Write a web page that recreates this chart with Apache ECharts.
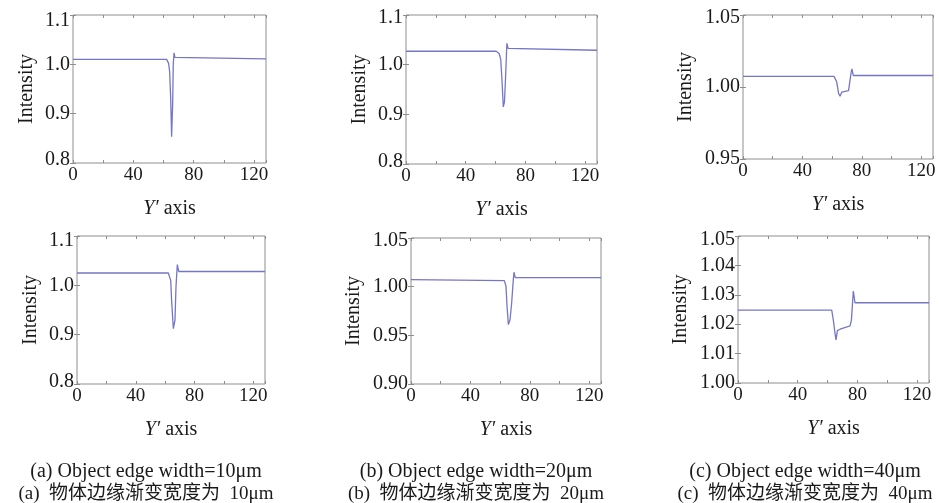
<!DOCTYPE html>
<html>
<head>
<meta charset="utf-8">
<script src="https://cdn.jsdelivr.net/npm/echarts@6/dist/echarts.min.js"></script>
<style>
html,body{margin:0;padding:0;background:#fff;}
#chart{width:939px;height:503px;}
</style>
</head>
<body>
<div id="chart"></div>
<script>
// ---- data ----
const xTickLabels = [0, 40, 80, 120];
const xMax = 128;

// (a) top: Object edge width = 10um
const topA_x = [0, 62.1, 63.4, 64.1, 64.8, 65.4, 66.1, 66.5, 67.0, 67.6, 68.3, 128];
const topA_y = [1.010, 1.010, 1.002, 0.985, 0.93, 0.853, 0.92, 1.00, 1.023, 1.014, 1.011, 1.011];
// (b) top
const topB_x = [0, 60.5, 62.5, 63.5, 64.3, 65.2, 66.0, 66.8, 67.6, 68.4, 69.5, 128];
const topB_y = [1.027, 1.027, 1.022, 1.010, 0.97, 0.915, 0.925, 0.98, 1.043, 1.033, 1.029, 1.029];
// (c) top
const topC_x = [0, 61.3, 63.1, 64.4, 65.4, 66.5, 71.1, 72.1, 73.0, 73.4, 74.3, 128];
const topC_y = [1.0074, 1.0074, 1.0037, 0.9956, 0.9936, 0.9964, 0.9975, 0.998, 1.011, 1.0125, 1.008, 1.008];
// (a) bottom
const botA_x = [0, 62.2, 63.8, 64.4, 65.6, 66.7, 67.4, 68.3, 69.3, 128];
const botA_y = [1.025, 1.025, 1.01, 0.97, 0.912, 0.929, 0.997, 1.042, 1.028, 1.028];
// (b) bottom
const botB_x = [0, 62.9, 64.0, 64.7, 65.6, 66.7, 67.8, 68.9, 69.4, 70.2, 128];
const botB_y = [1.0072, 1.0062, 1.0004, 0.980, 0.961, 0.966, 0.983, 1.007, 1.0148, 1.0093, 1.0093];
// (c) bottom
const botC_x = [0, 62.8, 63.9, 65.0, 65.7, 66.6, 68.4, 75.1, 76.0, 77.3, 78.4, 128];
const botC_y = [1.0248, 1.0248, 1.0214, 1.0169, 1.0147, 1.0178, 1.0183, 1.0194, 1.0214, 1.0313, 1.0273, 1.0273];

const yMins = [0.8, 0.8, 0.95, 0.8, 0.90, 1.00];
const yMaxs = [1.1, 1.1, 1.05, 1.1, 1.05, 1.05];
const yIntervals = [0.1, 0.1, 0.05, 0.1, 0.05, 0.01];
const yDigits = [1, 1, 2, 1, 2, 2];
const captionsEn = ['(a) Object edge width=10\u03bcm', '(b) Object edge width=20\u03bcm', '(c) Object edge width=40\u03bcm'];
const captionsZh = ['(a)  物体边缘渐变宽度为  10\u03bcm', '(b)  物体边缘渐变宽度为  20\u03bcm', '(c)  物体边缘渐变宽度为  40\u03bcm'];

const panelsX = [topA_x, topB_x, topC_x, botA_x, botB_x, botC_x];
const panelsY = [topA_y, topB_y, topC_y, botA_y, botB_y, botC_y];

// ---- layout ----
const grids = [
  {left: 73, top: 15, width: 193, height: 148},
  {left: 406, top: 15, width: 191, height: 149},
  {left: 743, top: 15, width: 190, height: 144},
  {left: 77, top: 236, width: 188, height: 148},
  {left: 411, top: 238, width: 190, height: 146},
  {left: 738, top: 236, width: 191, height: 147}
];
const maxLabelShift = [6, 2.5, 2.5, 4.5, 2.5, 4];
const minLabelShift = [3.5, 2.5, 0, 2.5, 0, 0];
const captionCenters = [141, 471, 800];

const SERIF = 'Liberation Serif';
const TXT = '#1a1a1a';
const FRAME = '#8e8e8e';
const LINE = '#7676c6';

const option = {
  backgroundColor: '#ffffff',
  animation: false,
  grid: grids.map(g => Object.assign({show: true, borderColor: FRAME, borderWidth: 1, backgroundColor: 'transparent'}, g)),
  xAxis: [],
  yAxis: [],
  series: [],
  title: []
};

for (let i = 0; i < 6; i++) {
  const ymin = yMins[i], ymax = yMaxs[i], d = yDigits[i];
  option.xAxis.push({
    type: 'value', gridIndex: i, min: 0, max: xMax, interval: 20, position: 'bottom',
    axisLine: {show: false},
    axisTick: {show: true, inside: true, length: 3, lineStyle: {color: FRAME}},
    splitLine: {show: false},
    axisLabel: {
      margin: 3, color: TXT, fontFamily: SERIF, fontSize: 19,
      formatter: v => (xTickLabels.indexOf(v) >= 0 ? String(v) : '')
    },
    name: '{i|Y\u2032} axis', nameLocation: 'middle', nameGap: 36,
    nameTextStyle: {color: TXT, fontFamily: SERIF, fontSize: 20,
      rich: {i: {fontStyle: 'italic', fontFamily: SERIF, fontSize: 20, color: TXT}}}
  });
  option.xAxis.push({
    type: 'value', gridIndex: i, min: 0, max: xMax, interval: 20, position: 'top',
    axisLine: {show: false},
    axisTick: {show: true, inside: true, length: 3, lineStyle: {color: FRAME}},
    splitLine: {show: false}, axisLabel: {show: false}
  });
  option.yAxis.push({
    type: 'value', gridIndex: i, min: ymin, max: ymax, interval: yIntervals[i], position: 'left',
    axisLine: {show: false},
    axisTick: {show: true, inside: true, length: 3, lineStyle: {color: FRAME}},
    splitLine: {show: false},
    axisLabel: {
      margin: 3, color: TXT, fontFamily: SERIF, fontSize: 20,
      formatter: v => {
        const s = v.toFixed(d);
        if (Math.abs(v - ymax) < 1e-9) return '{mx|' + s + '}';
        if (Math.abs(v - ymin) < 1e-9) return '{mn|' + s + '}';
        return s;
      },
      rich: {
        mx: {padding: [2 * maxLabelShift[i], 0, 0, 0], fontFamily: SERIF, fontSize: 20, color: TXT},
        mn: {padding: [0, 0, 2 * minLabelShift[i], 0], fontFamily: SERIF, fontSize: 20, color: TXT}
      }
    },
    name: 'Intensity', nameLocation: 'middle', nameRotate: 90,
    nameGap: d === 1 ? 36 : 47,
    nameTextStyle: {color: TXT, fontFamily: SERIF, fontSize: 20}
  });
  option.yAxis.push({
    type: 'value', gridIndex: i, min: ymin, max: ymax, interval: yIntervals[i], position: 'right',
    axisLine: {show: false},
    axisTick: {show: true, inside: true, length: 3, lineStyle: {color: FRAME}},
    splitLine: {show: false}, axisLabel: {show: false}
  });
  option.series.push({
    type: 'line', xAxisIndex: 2 * i, yAxisIndex: 2 * i, showSymbol: false, smooth: false,
    lineStyle: {color: LINE, width: 1.3},
    data: panelsX[i].map((x, k) => [x, panelsY[i][k]])
  });
}

for (let c = 0; c < 3; c++) {
  option.title.push({
    text: captionsEn[c], left: captionCenters[c], top: 457, textAlign: 'center',
    textStyle: {fontFamily: SERIF, fontSize: 20, fontWeight: 'normal', color: TXT}
  });
  option.title.push({
    text: captionsZh[c], left: captionCenters[c], top: 480, textAlign: 'center',
    textStyle: {fontFamily: SERIF + ', Noto Sans CJK SC', fontSize: 19, fontWeight: 'normal', color: TXT}
  });
}

const chart = echarts.init(document.getElementById('chart'), null, {renderer: 'canvas'});
chart.setOption(option);
</script>
</body>
</html>
